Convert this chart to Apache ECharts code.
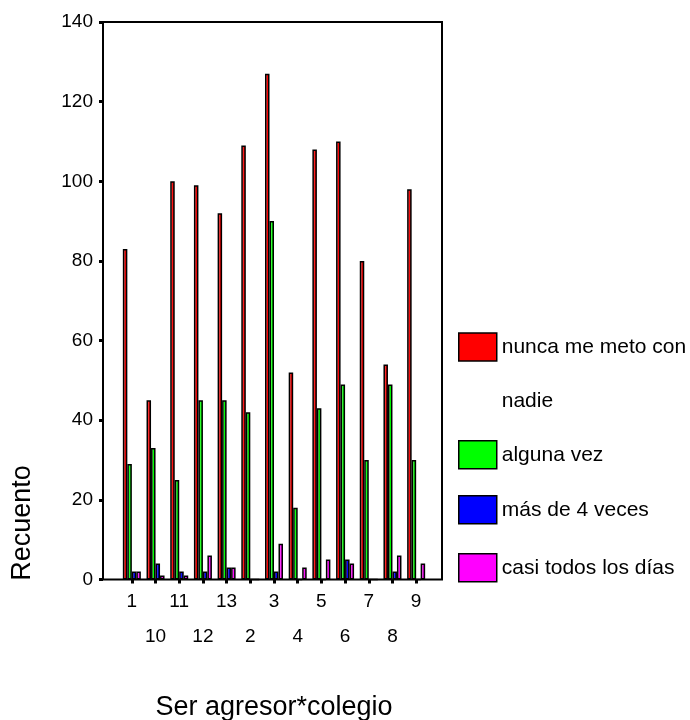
<!DOCTYPE html>
<html>
<head>
<meta charset="utf-8">
<script src="https://cdn.jsdelivr.net/npm/echarts@6/dist/echarts.min.js"></script>
<style>
  html, body { margin: 0; padding: 0; background: #ffffff; }
  #chart { width: 690px; height: 720px; }
</style>
</head>
<body>
<div id="chart"></div>
<script>
// Schools (category axis, in the order they appear)
const colegios = ['1', '10', '11', '12', '13', '2', '3', '4', '5', '6', '7', '8', '9'];

// Counts per answer, one value per school
const nuncaMeMeto = [83, 45, 100, 99, 92, 109, 127, 52, 108, 110, 80, 54, 98];
const algunaVez   = [29, 33, 25, 45, 45, 42, 90, 18, 43, 49, 30, 49, 30];
const masDe4Veces = [2, 4, 2, 2, 3, 0, 2, 0, 0, 5, 0, 2, 0];
const casiTodos   = [2, 1, 1, 6, 3, 0, 9, 3, 5, 4, 0, 6, 4];

const seriesNames  = ['nunca me meto con nadie', 'alguna vez', 'más de 4 veces', 'casi todos los días'];
const seriesValues = [nuncaMeMeto, algunaVez, masDe4Veces, casiTodos];
const seriesColors = ['#ff0000', '#00ff00', '#0000ff', '#ff00ff'];
const seriesLights = ['#ff7070', '#80ff80', '#6060ff', '#ff80ff'];

// Value axis ticks
const yMin = 0, yMax = 140, yStep = 20;

const FONT = '"Liberation Sans", Arial, sans-serif';

const chart = echarts.init(document.getElementById('chart'), null, { renderer: 'canvas' });

// Bars get a thin lighter stripe, like a lit edge on each column
function barFill(i) {
  return new echarts.graphic.LinearGradient(0, 0, 1, 0, [
    { offset: 0, color: seriesColors[i] },
    { offset: 0.3, color: seriesLights[i] },
    { offset: 0.55, color: seriesColors[i] },
    { offset: 1, color: seriesColors[i] }
  ]);
}

const series = seriesNames.map((name, i) => ({
  name: name,
  type: 'bar',
  xAxisIndex: 0,
  yAxisIndex: 0,
  data: seriesValues[i],
  barWidth: 4.5,
  barGap: '0%',
  itemStyle: { color: barFill(i), borderColor: '#000', borderWidth: 1.5 },
  emphasis: { disabled: true },
  animation: false
}));

// One legend block per answer so each swatch sits at its own row
const legendTops = [266, 440, 495, 553];
const legends = seriesNames.map((name, i) => ({
  show: true,
  left: 458,
  top: legendTops[i],
  padding: 0,
  orient: 'vertical',
  selectedMode: false,
  icon: 'rect',
  itemWidth: 38,
  itemHeight: 28,
  itemStyle: { color: seriesColors[i], borderColor: '#000', borderWidth: 1.5 },
  data: [name],
  // the long label wraps onto a second line below the swatch row
  formatter: (n) => n === 'nunca me meto con nadie' ? '\nnunca me meto con\nnadie' : n,
  textStyle: i === 0
    ? { fontSize: 21, fontFamily: FONT, color: '#000', lineHeight: 54 }
    : { fontSize: 21, fontFamily: FONT, color: '#000' }
}));

const option = {
  backgroundColor: '#ffffff',
  animation: false,
  textStyle: { fontFamily: FONT },
  legend: legends,
  grid: [
    { left: 120, top: 22, width: 308, height: 557.5, outerBoundsMode: 'none', containLabel: false },
    { left: 103, top: 22, width: 339, height: 557.5, outerBoundsMode: 'none', containLabel: false,
      show: true, borderColor: '#000', borderWidth: 2, backgroundColor: 'transparent' }
  ],
  xAxis: [
    {
      type: 'category',
      gridIndex: 0,
      data: colegios,
      axisLine: { show: false },
      axisTick: { show: true, alignWithLabel: true, length: 4, lineStyle: { color: '#000', width: 3 } },
      axisLabel: {
        interval: 0,
        fontSize: 19,
        fontFamily: FONT,
        color: '#000',
        lineHeight: 35,
        margin: 5,
        formatter: (v, idx) => (idx % 2 === 1 ? '\n' + v : v)
      },
      splitLine: { show: false },
      name: 'Ser agresor*colegio',
      nameLocation: 'middle',
      nameGap: 115,
      nameTextStyle: { fontSize: 27, fontFamily: FONT, color: '#000' }
    },
    { type: 'value', gridIndex: 1, show: false }
  ],
  yAxis: [
    {
      type: 'value',
      gridIndex: 0,
      min: yMin,
      max: yMax,
      interval: yStep,
      offset: 17,
      axisLine: { show: false },
      axisTick: { show: true, length: 4, lineStyle: { color: '#000', width: 3 } },
      axisLabel: { fontSize: 19, fontFamily: FONT, color: '#000', margin: 10 },
      splitLine: { show: false }
    },
    { type: 'value', gridIndex: 1, show: false }
  ],
  graphic: [
    {
      type: 'text',
      x: 23,
      y: 523,
      rotation: Math.PI / 2,
      style: {
        text: 'Recuento',
        fontSize: 27,
        fontFamily: FONT,
        fill: '#000',
        align: 'center',
        verticalAlign: 'middle'
      }
    }
  ],
  series: series
};

chart.setOption(option);
</script>
</body>
</html>
